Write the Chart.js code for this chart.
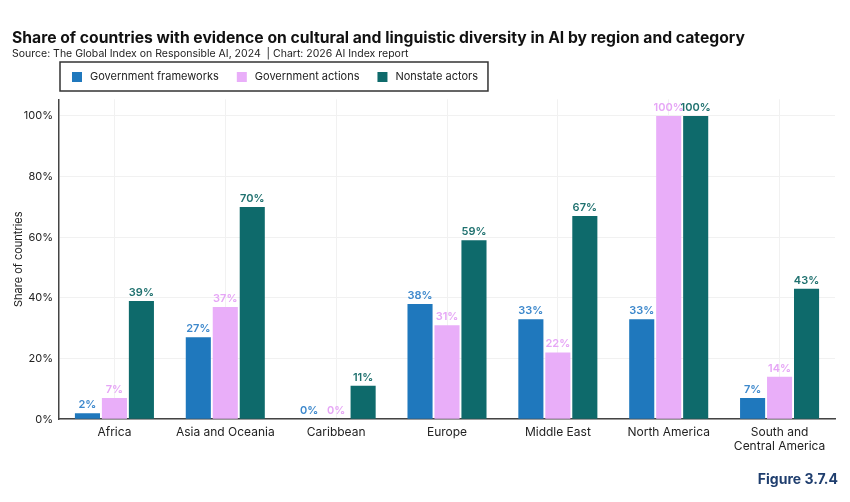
<!DOCTYPE html>
<html>
<head>
<meta charset="utf-8">
<script src="https://cdn.jsdelivr.net/npm/chart.js@4.4.1/dist/chart.umd.min.js"></script>
<style>
html, body { margin: 0; padding: 0; background: #fff; }
#wrap { width: 850px; height: 502px; position: relative; }
</style>
</head>
<body>
<div id="wrap"><canvas id="myChart" width="850" height="502"></canvas></div>
<script>
// Data
var regions = ['Africa', 'Asia and Oceania', 'Caribbean', 'Europe', 'Middle East', 'North America', ['South and', 'Central America']];
var govFrameworks = [2, 27, 0, 38, 33, 33, 7];
var govActions = [7, 37, 0, 31, 22, 100, 14];
var nonstateActors = [39, 70, 11, 59, 67, 100, 43];
var seriesNames = ['Government frameworks', 'Government actions', 'Nonstate actors'];
var yTicks = [0, 20, 40, 60, 80, 100];

var FONT = 'Inter, "DejaVu Sans", sans-serif';

// Draws the value above each bar
var valueLabels = {
    id: 'valueLabels',
    afterDatasetsDraw: function(chart) {
        var ctx = chart.ctx;
        ctx.save();
        ctx.font = '600 11px ' + FONT;
        ctx.textAlign = 'center';
        ctx.textBaseline = 'bottom';
        chart.data.datasets.forEach(function(ds, i) {
            var meta = chart.getDatasetMeta(i);
            ctx.fillStyle = ds.labelColor;
            meta.data.forEach(function(bar, j) {
                ctx.fillText(ds.data[j] + '%', bar.x, bar.y - 3);
            });
        });
        ctx.restore();
    }
};

// Boxed legend and figure number
var boxLegend = {
    id: 'boxLegend',
    afterDraw: function(chart) {
        var ctx = chart.ctx;
        ctx.save();
        ctx.font = '11px ' + FONT;
        ctx.textBaseline = 'middle';
        var x = 72, y = 77;
        chart.data.datasets.forEach(function(ds) {
            ctx.fillStyle = ds.backgroundColor;
            ctx.fillRect(x, y - 5, 10, 10);
            x += 18;
            ctx.fillStyle = '#222';
            ctx.fillText(ds.label, x, y);
            x += ctx.measureText(ds.label).width + 18;
        });
        ctx.strokeStyle = '#333';
        ctx.lineWidth = 1.5;
        ctx.strokeRect(60, 62, x - 18 + 10 - 60, 29);

        ctx.font = 'bold 14px ' + FONT;
        ctx.fillStyle = '#1f3e6e';
        ctx.textAlign = 'right';
        ctx.fillText('Figure 3.7.4', 838, 480);
        ctx.restore();
    }
};

var ctx = document.getElementById('myChart').getContext('2d');
var myChart = new Chart(ctx, {
    type: 'bar',
    data: {
        labels: regions,
        datasets: [{
            label: seriesNames[0],
            data: govFrameworks,
            backgroundColor: '#1f78bd',
            labelColor: '#3d88cc'
        }, {
            label: seriesNames[1],
            data: govActions,
            backgroundColor: '#e9aef9',
            labelColor: '#e6a6f6'
        }, {
            label: seriesNames[2],
            data: nonstateActors,
            backgroundColor: '#0e6a6b',
            labelColor: '#1f716f'
        }]
    },
    options: {
        responsive: false,
        animation: false,
        devicePixelRatio: 1,
        layout: { padding: { left: 12, right: 15, bottom: 42, top: 0 } },
        datasets: {
            bar: { categoryPercentage: 0.73, barPercentage: 0.93 }
        },
        plugins: {
            legend: { display: false },
            tooltip: { enabled: false },
            title: {
                display: true,
                align: 'start',
                text: 'Share of countries with evidence on cultural and linguistic diversity in AI by region and category',
                color: '#111',
                font: { family: FONT, size: 15.7, weight: 'bold', lineHeight: 1.0 },
                padding: { top: 30, bottom: 0 }
            },
            subtitle: {
                display: true,
                align: 'start',
                text: 'Source: The Global Index on Responsible AI, 2024  | Chart: 2026 AI Index report',
                color: '#222',
                font: { family: FONT, size: 10.5, lineHeight: 1.2 },
                padding: { top: 2, bottom: 39 }
            }
        },
        scales: {
            x: {
                grid: { color: '#f1f1f1', offset: false, drawTicks: false },
                border: { color: '#444', width: 1.5 },
                ticks: { color: '#222', font: { family: FONT, size: 12 }, padding: 6, maxRotation: 0 }
            },
            y: {
                min: 0,
                max: 105.5,
                afterBuildTicks: function(scale) {
                    scale.ticks = yTicks.map(function(v) { return { value: v }; });
                },
                afterFit: function(scale) {
                    scale.width = 47;
                },
                grid: { color: '#f1f1f1', drawTicks: false },
                border: { color: '#444', width: 1.5 },
                ticks: {
                    color: '#222',
                    font: { family: FONT, size: 11 },
                    padding: 6,
                    callback: function(v) { return v + '%'; }
                },
                title: {
                    display: true,
                    text: 'Share of countries',
                    color: '#222',
                    font: { family: FONT, size: 11 },
                    padding: { top: 0, bottom: 0 }
                }
            }
        }
    },
    plugins: [valueLabels, boxLegend]
});
</script>
</body>
</html>
